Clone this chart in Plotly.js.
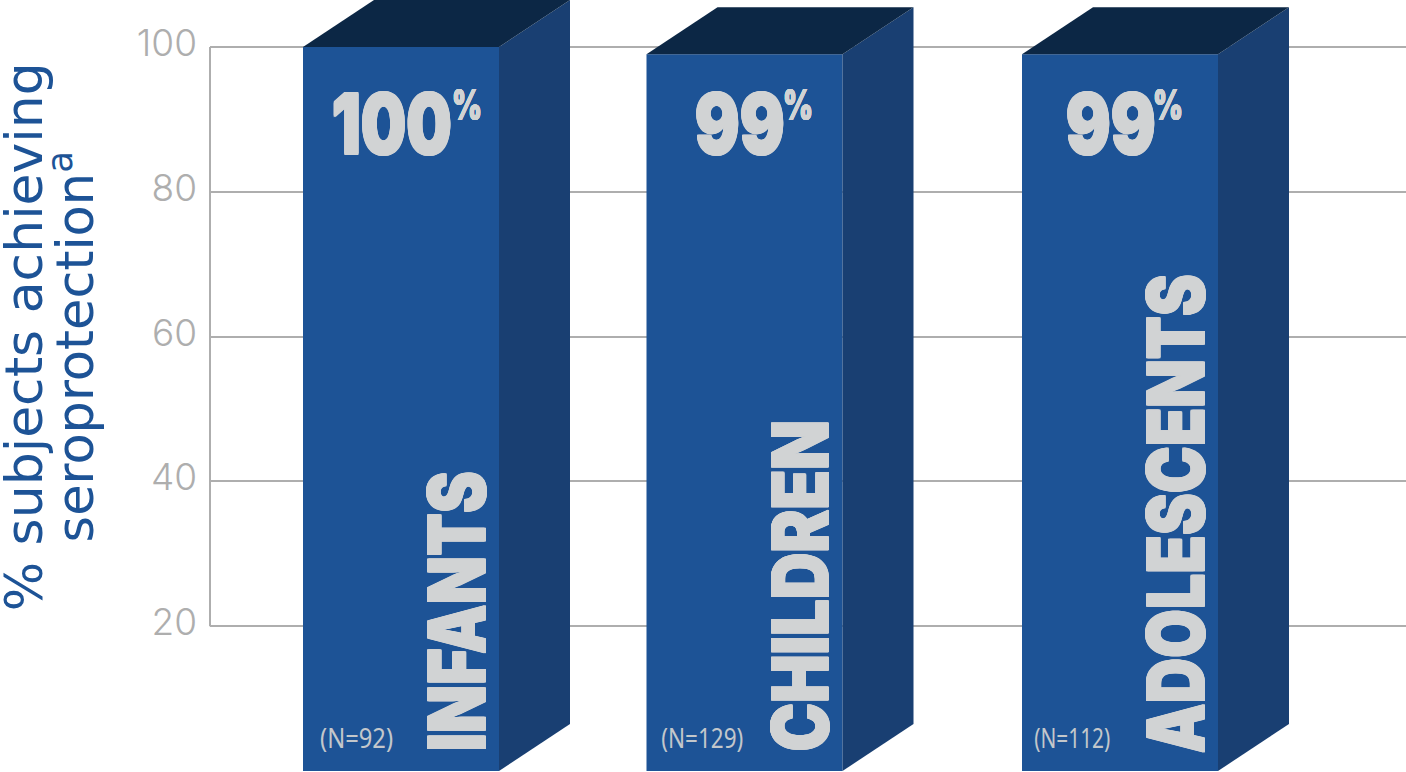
<!DOCTYPE html>
<html><head><meta charset="utf-8">
<script src="https://cdn.plot.ly/plotly-3.0.1.min.js"></script>
<style>html,body{margin:0;padding:0;background:#fff}#c{width:1406px;height:772px}</style>
</head><body><div id="c"></div>
<script>
const categories = ['INFANTS','CHILDREN','ADOLESCENTS'];
const sampleLabels = ['(N=92)','(N=129)','(N=112)'];
const values = [100, 99, 99];
const valueLabels = ['100','99','99'];
const tickVals = [20,40,60,80,100];
const tickLabels = ['20','40','60','80','100'];

// geometry of the drawing (axis units)
const centers = [401, 744.5, 1120];
const barW = 196, depthX = 71, depthY = 6.5;
const numX = [391, 739, 1110], pctX = [467, 798, 1168], nX = [356, 702, 1072];
const catX = [456.5, 800, 1175], catY = [22.07, 25.6, 35.5];
const catLen = [280, 331, 479], numLen = [120, 90, 90], nLen = [73, 82, 76];
const front='#1d5396', side='#193f72', top_='#0c2745', light='#d1d3d4';
const heavy='Inter';
const thick = (c,n)=>[[n,0],[-n,0],[0,n],[0,-n],[n,n],[-n,-n],[n,-n],[-n,n]].map(p=>p[0]+'px '+p[1]+'px 0 '+c).join(',');

const traces = [{type:'bar', x:centers, y:values, width:barW, marker:{color:front,line:{width:0}}, hoverinfo:'skip'}];
values.forEach((v,i)=>{
  const a=centers[i]-barW/2, b=centers[i]+barW/2;
  traces.push({type:'scatter',mode:'lines',fill:'toself',fillcolor:side,line:{width:0},hoverinfo:'skip',
    x:[b,b+depthX,b+depthX,b,b],y:[0,depthY,v+depthY,v,0]});
  traces.push({type:'scatter',mode:'lines',fill:'toself',fillcolor:top_,line:{width:0},hoverinfo:'skip',
    x:[a,a+depthX,b+depthX,b,a],y:[v,v+depthY,v+depthY,v,v]});
});

const ann=[], squeeze=[];
categories.forEach((c,i)=>{
  squeeze.push(catLen[i]);
  ann.push({xref:'x',yref:'y',x:catX[i],y:catY[i],text:c,textangle:-90,showarrow:false,xanchor:'center',yanchor:'middle',
    font:{family:heavy,size:78,color:light,weight:900,shadow:thick(light,0.8)}});
  squeeze.push(nLen[i]);
  ann.push({xref:'x',yref:'y',x:nX[i],y:4.6,text:sampleLabels[i],showarrow:false,xanchor:'center',yanchor:'middle',
    font:{family:'Noto Sans',size:27,color:'#c3c7cb'}});
  squeeze.push(numLen[i]);
  ann.push({xref:'x',yref:'y',x:numX[i],y:89.5,text:valueLabels[i],showarrow:false,xanchor:'center',yanchor:'middle',
    font:{family:heavy,size:84,color:light,weight:900,shadow:thick(light,1)}});
  squeeze.push(30);
  ann.push({xref:'x',yref:'y',x:pctX[i],y:92,text:'%',showarrow:false,xanchor:'center',yanchor:'middle',
    font:{family:heavy,size:42,color:light,weight:900,shadow:thick(light,0.4)}});
});
ann.push({xref:'paper',yref:'paper',x:-0.1755,xshift:-8,y:0.204,text:'% subjects achieving',textangle:-90,showarrow:false,xanchor:'left',yanchor:'bottom',
  font:{family:'DejaVu Sans',size:52,color:front}});
ann.push({xref:'paper',yref:'paper',x:-0.1375,xshift:-9,y:0.294,text:'seroprotection<sup>a</sup>',textangle:-90,showarrow:false,xanchor:'left',yanchor:'bottom',
  font:{family:'DejaVu Sans',size:51,color:front}});

Plotly.newPlot('c',traces,{
  width:1406,height:772,margin:{l:210,r:0,t:0,b:1,pad:0},
  paper_bgcolor:'#fff',plot_bgcolor:'#fff',showlegend:false,barmode:'overlay',
  xaxis:{range:[210,1406],visible:false,fixedrange:true},
  yaxis:{range:[0,106.5],tickvals:tickVals,ticktext:tickLabels,showline:false,zeroline:false,ticks:'',
    gridcolor:'#aeaeae',gridwidth:2,ticklabelstandoff:12,ticklabelshift:-4,
    tickfont:{family:'Inter',size:37,color:'#aeaeae',weight:300}},
  shapes:[{type:'line',xref:'paper',yref:'y',x0:0,x1:0,y0:tickVals[0],y1:tickVals[tickVals.length-1],line:{color:'#aeaeae',width:2},layer:'below'}],
  annotations:ann
},{displayModeBar:false,staticPlot:true}).then(()=>{
  // condensed lettering: no condensed face is installed, so fit the real text to its length
  document.querySelectorAll('.annotation').forEach(g=>{
    const len=squeeze[+g.getAttribute('data-index')];
    const t=g.querySelector('text');
    if(len&&t){t.setAttribute('textLength',len);t.setAttribute('lengthAdjust','spacingAndGlyphs');}
  });
});
</script></body></html>
